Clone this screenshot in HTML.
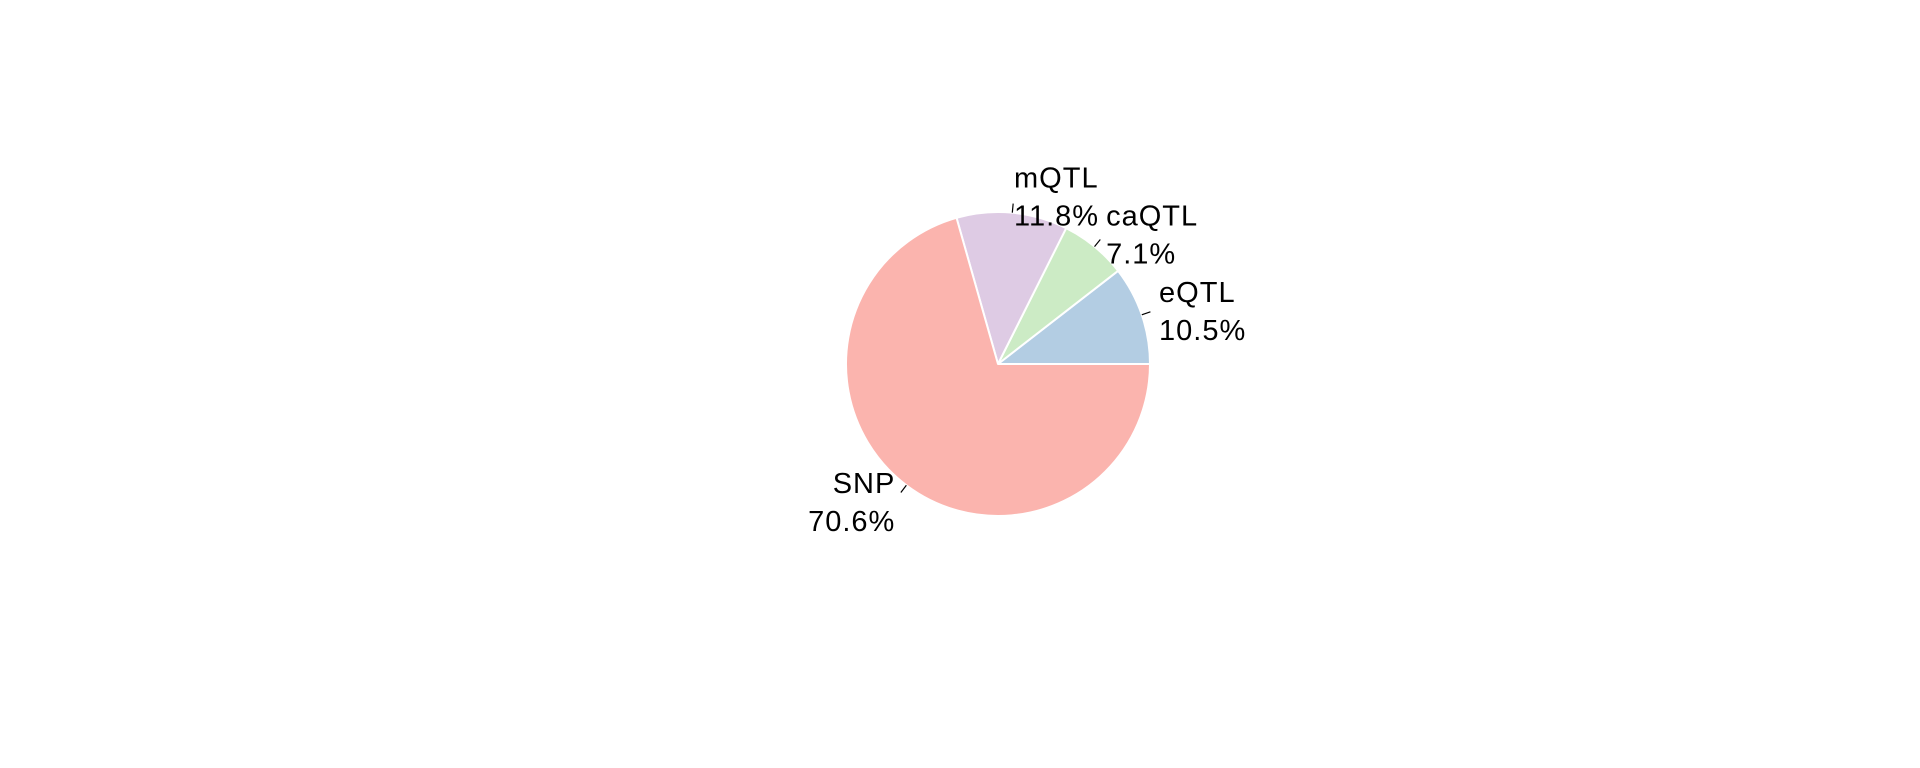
<!DOCTYPE html>
<html><head><meta charset="utf-8"><style>
html,body{margin:0;padding:0;background:#fff;}
svg{display:block;}
text{font-family:"Liberation Sans",Arial,sans-serif;font-size:29px;letter-spacing:1px;fill:#000;}
</style></head><body>
<svg id="chart" width="1920" height="768" viewBox="0 0 1920 768" xmlns="http://www.w3.org/2000/svg">
<rect width="1920" height="768" fill="#fff"/>
<g id="slices"></g>
<g id="labels"></g>
</svg>
<script>
const categories = ["eQTL", "caQTL", "mQTL", "SNP"];
const values = [10.5, 7.1, 11.8, 70.6];
const pctLabels = ["10.5%", "7.1%", "11.8%", "70.6%"];
const colors = ["#b3cde3", "#ccebc5", "#decbe4", "#fbb4ae"];

const NS = "http://www.w3.org/2000/svg";
const cx = 998, cy = 364, r = 152;
const total = values.reduce((a, b) => a + b, 0);
const sg = document.getElementById("slices");
const lg = document.getElementById("labels");
function pt(angDeg, rad) {
  const a = angDeg * Math.PI / 180;
  return [cx + rad * Math.cos(a), cy - rad * Math.sin(a)];
}
let start = 0;
values.forEach((v, i) => {
  const sweep = v / total * 360;
  const end = start + sweep;
  const [x1, y1] = pt(start, r);
  const [x2, y2] = pt(end, r);
  const large = sweep > 180 ? 1 : 0;
  const p = document.createElementNS(NS, "path");
  p.setAttribute("d", `M${cx},${cy} L${x1},${y1} A${r},${r} 0 ${large} 0 ${x2},${y2} Z`);
  p.setAttribute("fill", colors[i]);
  p.setAttribute("stroke", "#fff");
  p.setAttribute("stroke-width", "2");
  p.setAttribute("stroke-linejoin", "round");
  
  
  sg.appendChild(p);

  const mid = start + sweep / 2;
  const [lx1, ly1] = pt(mid, r * 1.0);
  const [lx2, ly2] = pt(mid, r * 1.06);
  const ln = document.createElementNS(NS, "line");
  ln.setAttribute("x1", lx1); ln.setAttribute("y1", ly1);
  ln.setAttribute("x2", lx2); ln.setAttribute("y2", ly2);
  ln.setAttribute("stroke", "#000");
  ln.setAttribute("stroke-width", "1.2");
  
  
  lg.appendChild(ln);

  const [tx, ty] = pt(mid, r * 1.12);
  const right = Math.cos(mid * Math.PI / 180) >= 0;
  const t = document.createElementNS(NS, "text");
  t.setAttribute("text-anchor", right ? "start" : "end");
  const baseY = ty - 7;
  const t1 = document.createElementNS(NS, "tspan");
  t1.setAttribute("x", tx); t1.setAttribute("y", baseY);
  t1.textContent = categories[i];
  const t2 = document.createElementNS(NS, "tspan");
  t2.setAttribute("x", tx); t2.setAttribute("y", baseY + 38);
  t2.textContent = pctLabels[i];
  t.appendChild(t1); t.appendChild(t2);
  
  
  lg.appendChild(t);
  start = end;
});
</script>
</body></html>
